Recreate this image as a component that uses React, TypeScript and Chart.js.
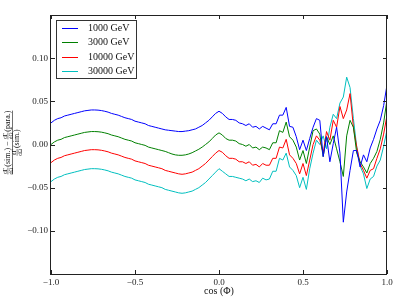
import React, { useEffect, useRef } from "react";
import { Chart, registerables } from "chart.js";

Chart.register(...registerables);

const xValues = [
  -1.0, -0.98, -0.96, -0.94, -0.92, -0.9, -0.88, -0.86, -0.84, -0.82,
  -0.8, -0.78, -0.76, -0.74, -0.72, -0.7, -0.68, -0.66, -0.64, -0.62,
  -0.6, -0.58, -0.56, -0.54, -0.52, -0.5, -0.48, -0.46, -0.44, -0.42,
  -0.4, -0.38, -0.36, -0.34, -0.32, -0.3, -0.28, -0.26, -0.24, -0.22,
  -0.2, -0.18, -0.16, -0.14, -0.12, -0.1, -0.08, -0.06, -0.04, -0.02,
  0.0, 0.02, 0.04, 0.06, 0.08, 0.1, 0.12, 0.14, 0.16, 0.18,
  0.2, 0.22, 0.24, 0.26, 0.28, 0.3, 0.32, 0.34, 0.36, 0.38,
  0.4, 0.42, 0.44, 0.46, 0.48, 0.5, 0.52, 0.54, 0.56, 0.58,
  0.6, 0.62, 0.64, 0.66, 0.68, 0.7, 0.72, 0.74, 0.76, 0.78,
  0.8, 0.82, 0.84, 0.86, 0.88, 0.9, 0.92, 0.94, 0.96, 0.98,
  1.0,
];

const series1000 = [
  0.025, 0.028, 0.03, 0.031, 0.033, 0.034, 0.035, 0.036, 0.037, 0.038,
  0.039, 0.0395, 0.04, 0.04, 0.0398, 0.0393, 0.0385, 0.0375, 0.036, 0.035,
  0.034, 0.0325, 0.031, 0.03, 0.029, 0.027, 0.026, 0.025, 0.024, 0.022,
  0.021, 0.02, 0.019, 0.018, 0.017, 0.0165, 0.016, 0.0155, 0.015, 0.015,
  0.0155, 0.016, 0.017, 0.018, 0.02, 0.022, 0.025, 0.028, 0.032, 0.036,
  0.0385, 0.036, 0.032, 0.029, 0.029, 0.028, 0.025, 0.024, 0.022, 0.024,
  0.02, 0.021, 0.018, 0.021, 0.019, 0.017, 0.024, 0.024, 0.034, 0.034,
  0.043, 0.021, 0.02, 0.009, -0.006, 0.005, -0.007, 0.007, 0.02, 0.03,
  0.028, -0.014, 0.009, -0.02, 0.001, 0.02, -0.01, -0.09, -0.055, -0.03,
  -0.007, -0.007, -0.026, -0.012, -0.02, -0.004, 0.006, 0.018, 0.028, 0.045,
  0.069,
];

const series3000 = [
  0.0, 0.003, 0.005, 0.006, 0.008, 0.009, 0.01, 0.011, 0.012, 0.013,
  0.014, 0.0145, 0.015, 0.015, 0.0148, 0.0143, 0.0135, 0.0125, 0.011, 0.01,
  0.009, 0.0075, 0.006, 0.005, 0.004, 0.002, 0.001, 0.0, -0.001, -0.003,
  -0.004, -0.005, -0.006, -0.007, -0.008, -0.0095, -0.011, -0.012, -0.0125, -0.0125,
  -0.012, -0.011, -0.0095, -0.0075, -0.0055, -0.003, 0.0, 0.003, 0.007, 0.011,
  0.0135, 0.011, 0.007, 0.005, 0.005, 0.004, 0.001, 0.0, -0.002, 0.0,
  -0.004, -0.003, -0.006, -0.003, -0.004, -0.006, 0.002, 0.002, 0.016, 0.014,
  0.026, 0.009, 0.005, -0.003, -0.018, -0.007, -0.022, -0.003, 0.016, 0.018,
  0.012, -0.014, 0.009, 0.0, 0.01, -0.005, -0.02, -0.037, 0.01, 0.028,
  0.02, -0.01, -0.02, -0.026, -0.033, -0.022, -0.016, -0.008, 0.006, 0.025,
  0.052,
];

const series10000 = [
  -0.021, -0.018, -0.016, -0.015, -0.013, -0.012, -0.011, -0.01, -0.009, -0.008,
  -0.007, -0.0065, -0.006, -0.006, -0.0062, -0.0067, -0.0075, -0.0085, -0.01, -0.011,
  -0.012, -0.0135, -0.015, -0.016, -0.017, -0.019, -0.02, -0.021, -0.022, -0.024,
  -0.025, -0.026, -0.027, -0.028, -0.03, -0.031, -0.032, -0.033, -0.034, -0.0345,
  -0.034, -0.033, -0.032, -0.03, -0.028, -0.025, -0.022, -0.018, -0.014, -0.01,
  -0.007, -0.009, -0.013, -0.016, -0.016, -0.017, -0.02, -0.02, -0.022, -0.02,
  -0.024, -0.023, -0.026, -0.022, -0.024, -0.024, -0.016, -0.016, -0.003, -0.004,
  0.006, -0.012, -0.016, -0.022, -0.034, -0.022, -0.036, -0.018, 0.0, 0.01,
  0.005, -0.01, 0.015, 0.005, 0.028, 0.02, 0.044, 0.03, 0.04, 0.059,
  0.02, -0.003, -0.022, -0.03, -0.039, -0.03, -0.028, -0.016, -0.005, 0.012,
  0.034,
];

const series30000 = [
  -0.043, -0.04, -0.038, -0.037, -0.035, -0.034, -0.033, -0.032, -0.031, -0.03,
  -0.029, -0.0285, -0.028, -0.028, -0.0282, -0.0287, -0.0295, -0.0305, -0.032, -0.033,
  -0.034, -0.0355, -0.037, -0.038, -0.039, -0.041, -0.042, -0.043, -0.044, -0.046,
  -0.047, -0.048, -0.049, -0.05, -0.052, -0.053, -0.054, -0.055, -0.056, -0.0565,
  -0.056, -0.055, -0.054, -0.052, -0.05, -0.047, -0.044, -0.04, -0.036, -0.032,
  -0.028, -0.031, -0.034, -0.037, -0.037, -0.038, -0.039, -0.04, -0.042, -0.04,
  -0.043, -0.042, -0.044, -0.039, -0.041, -0.04, -0.031, -0.031, -0.016, -0.018,
  -0.01, -0.026, -0.03, -0.036, -0.05, -0.038, -0.052, -0.028, -0.01, 0.005,
  0.0, 0.01, -0.005, 0.02, 0.035, 0.03, 0.048, 0.055, 0.078, 0.066,
  0.03, -0.003, -0.025, -0.034, -0.051, -0.04, -0.037, -0.025, -0.018, -0.002,
  0.017,
];

const seriesLabels = ["1000 GeV", "3000 GeV", "10000 GeV", "30000 GeV"];
const seriesColors = ["#0000ff", "#008000", "#ff0000", "#00bfbf"];
const seriesValues = [series1000, series3000, series10000, series30000];

const xTicks = [-1.0, -0.5, 0.0, 0.5, 1.0];
const yTicks = [-0.1, -0.05, 0.0, 0.05, 0.1];
const xLabel = "cos (Φ)";

const SERIF = '"Liberation Serif", "DejaVu Serif", serif';
const f = (s: number) => `${s}px ${SERIF}`;

function fmt(v: number, d: number) {
  if (Math.abs(v) < 1e-9) return (0).toFixed(d);
  return v.toFixed(d).replace("-", "\u2212");
}

function fracWidth(ctx: CanvasRenderingContext2D, size: number) {
  ctx.font = f(size);
  return Math.max(ctx.measureText("dΓ").width, ctx.measureText("dΩ").width);
}

function drawMiniFrac(ctx: CanvasRenderingContext2D, u: number, v: number, size: number) {
  const w = fracWidth(ctx, size);
  ctx.font = f(size);
  ctx.textAlign = "center";
  ctx.textBaseline = "alphabetic";
  ctx.fillText("dΓ", u + w / 2, v - 0.8);
  ctx.textBaseline = "top";
  ctx.fillText("dΩ", u + w / 2, v + 0.6);
  ctx.beginPath();
  ctx.lineWidth = 0.5;
  ctx.moveTo(u, v);
  ctx.lineTo(u + w, v);
  ctx.stroke();
  return w;
}

type Seg = { t: "frac" } | { t: "text"; s: string };

function segWidth(ctx: CanvasRenderingContext2D, segs: Seg[], size: number, fsize: number) {
  let w = 0;
  for (const s of segs) {
    if (s.t === "frac") {
      w += fracWidth(ctx, fsize) + 0.8;
    } else {
      ctx.font = f(size);
      w += ctx.measureText(s.s).width;
    }
  }
  return w;
}

function drawSegs(ctx: CanvasRenderingContext2D, segs: Seg[], center: number, v: number, size: number, fsize: number) {
  const total = segWidth(ctx, segs, size, fsize);
  let u = center - total / 2;
  for (const s of segs) {
    if (s.t === "frac") {
      u += drawMiniFrac(ctx, u, v, fsize) + 0.8;
    } else {
      ctx.font = f(size);
      ctx.textAlign = "left";
      ctx.textBaseline = "middle";
      ctx.fillText(s.s, u, v);
      u += ctx.measureText(s.s).width;
    }
  }
  return total;
}

const decorPlugin = {
  id: "decor",
  afterDraw(chart: any) {
    const { ctx, chartArea, scales } = chart;
    const { left, right, top, bottom } = chartArea;
    const xs = scales.x;
    const ys = scales.y;
    ctx.save();
    ctx.strokeStyle = "#222";
    ctx.fillStyle = "#111";
    ctx.lineWidth = 1;

    // frame
    ctx.strokeRect(Math.round(left) - 0.5, Math.round(top) + 0.5, Math.round(right - left), Math.round(bottom - top));

    // inside ticks on all four sides
    const tl = 4;
    ctx.beginPath();
    for (const v of xTicks) {
      const px = Math.round(xs.getPixelForValue(v)) + 0.5;
      ctx.moveTo(px, bottom);
      ctx.lineTo(px, bottom - tl);
      ctx.moveTo(px, top);
      ctx.lineTo(px, top + tl);
    }
    for (const v of yTicks) {
      const py = Math.round(ys.getPixelForValue(v)) + 0.5;
      ctx.moveTo(left, py);
      ctx.lineTo(left + tl, py);
      ctx.moveTo(right, py);
      ctx.lineTo(right - tl, py);
    }
    ctx.stroke();

    // legend
    const lx = 56, ly = 20, lw = 80, lh = 58;
    ctx.fillStyle = "#fff";
    ctx.fillRect(lx, ly, lw, lh);
    ctx.strokeStyle = "#333";
    ctx.strokeRect(lx + 0.5, ly + 0.5, lw, lh);
    const rows = [27.7, 42.3, 56.7, 71];
    seriesLabels.forEach((lab, i) => {
      ctx.strokeStyle = seriesColors[i];
      ctx.lineWidth = 1;
      ctx.beginPath();
      ctx.moveTo(62, Math.round(rows[i]) + 0.5);
      ctx.lineTo(78, Math.round(rows[i]) + 0.5);
      ctx.stroke();
      ctx.fillStyle = "#111";
      ctx.font = f(10);
      ctx.textAlign = "left";
      ctx.textBaseline = "middle";
      ctx.fillText(lab, 88, rows[i] + 0.5);
    });

    // x label
    ctx.fillStyle = "#111";
    ctx.font = f(10);
    ctx.textAlign = "center";
    ctx.textBaseline = "middle";
    ctx.fillText(xLabel, (left + right) / 2, 291);

    // y label (rotated fraction)
    ctx.save();
    ctx.translate(12.5, (top + bottom) / 2 - 2);
    ctx.rotate(-Math.PI / 2);
    ctx.fillStyle = "#111";
    ctx.strokeStyle = "#111";
    const numer: Seg[] = [
      { t: "frac" }, { t: "text", s: "(sim.) \u2212 " }, { t: "frac" }, { t: "text", s: "(para.)" },
    ];
    const denom: Seg[] = [{ t: "frac" }, { t: "text", s: "(sim.)" }];
    const nw = drawSegs(ctx, numer, 0, -4.6, 8, 5.5);
    drawSegs(ctx, denom, 0, 4.6, 8, 5.5);
    ctx.beginPath();
    ctx.lineWidth = 0.6;
    ctx.moveTo(-nw / 2, 0);
    ctx.lineTo(nw / 2, 0);
    ctx.stroke();
    ctx.restore();

    ctx.restore();
  },
};

export default function App() {
  const ref = useRef<HTMLCanvasElement | null>(null);
  useEffect(() => {
    if (!ref.current) return;
    const datasets = seriesLabels.map((lab, i) => ({
      label: lab,
      data: xValues.map((x, j) => ({ x, y: seriesValues[i][j] })),
      borderColor: seriesColors[i],
      backgroundColor: seriesColors[i],
      borderWidth: 1,
      pointRadius: 0,
      tension: 0,
      fill: false,
    }));
    const chart = new Chart(ref.current, {
      type: "line",
      data: { datasets },
      plugins: [decorPlugin],
      options: {
        animation: false,
        responsive: false,
        devicePixelRatio: 1,
        layout: { padding: { top: 15, right: 20, left: 0, bottom: 0 } },
        plugins: { legend: { display: false }, tooltip: { enabled: false } },
        scales: {
          x: {
            type: "linear",
            min: -1,
            max: 1,
            grid: { display: false, drawTicks: false, tickLength: 0 },
            border: { display: false },
            ticks: {
              stepSize: 0.5,
              padding: 3,
              color: "#222",
              font: { family: SERIF, size: 9 },
              maxRotation: 0,
              callback: (v: any) => fmt(Number(v), 1),
            },
            afterFit: (s: any) => {
              s.height = 31;
            },
          },
          y: {
            type: "linear",
            min: -0.15,
            max: 0.15,
            grid: { display: false, drawTicks: false, tickLength: 0 },
            border: { display: false },
            ticks: {
              stepSize: 0.05,
              padding: 3,
              color: "#222",
              font: { family: SERIF, size: 9 },
              callback: (v: any) => {
                const n = Number(v);
                if (Math.abs(Math.abs(n) - 0.15) < 1e-6) return "";
                return fmt(n, 2);
              },
            },
            afterFit: (s: any) => {
              s.width = 51;
            },
          },
        },
      },
    });
    return () => chart.destroy();
  }, []);
  return (
    <div style={{ position: "fixed", left: 0, top: 0, width: 407, height: 305, background: "#fff" }}>
      <canvas ref={ref} width={407} height={305} style={{ width: 407, height: 305, display: "block" }} />
    </div>
  );
}
